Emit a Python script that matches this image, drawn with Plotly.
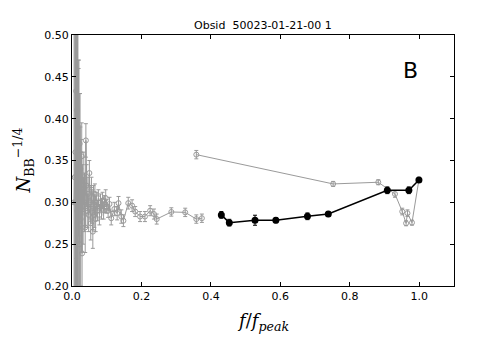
import plotly.graph_objects as go

# Gray series (low-frequency chain)
gray_x = [0.006, 0.008, 0.010, 0.011, 0.012, 0.013, 0.014, 0.015, 0.016, 0.017,
          0.018, 0.019, 0.020, 0.021, 0.022, 0.023, 0.024, 0.025, 0.026, 0.027,
          0.028, 0.029, 0.030, 0.032, 0.034, 0.036, 0.038, 0.040, 0.042, 0.044,
          0.046, 0.048, 0.050, 0.052, 0.054, 0.056, 0.058, 0.060, 0.062, 0.064,
          0.066, 0.068, 0.070, 0.073, 0.076, 0.079, 0.082, 0.085, 0.088, 0.091,
          0.094, 0.097, 0.100, 0.104, 0.108, 0.113, 0.122, 0.130, 0.134, 0.142,
          0.148, 0.162, 0.173, 0.182, 0.196, 0.210, 0.225, 0.236, 0.244, 0.286,
          0.326, 0.358, 0.374]
gray_y = [0.300, 0.330, 0.360, 0.300, 0.433, 0.330, 0.410, 0.290, 0.345, 0.391,
          0.270, 0.360, 0.320, 0.250, 0.370, 0.310, 0.340, 0.280, 0.325, 0.300,
          0.355, 0.239, 0.315, 0.290, 0.330, 0.300, 0.270, 0.374, 0.320, 0.290,
          0.310, 0.285, 0.335, 0.300, 0.275, 0.315, 0.295, 0.265, 0.305, 0.285,
          0.310, 0.280, 0.300, 0.290, 0.305, 0.285, 0.300, 0.292, 0.302, 0.290,
          0.298, 0.305, 0.295, 0.290, 0.298, 0.281, 0.292, 0.287, 0.299, 0.283,
          0.278, 0.299, 0.296, 0.289, 0.283, 0.283, 0.290, 0.286, 0.280, 0.2885,
          0.288, 0.280, 0.281]
gray_err = [0.30, 0.25, 0.35, 0.28, 0.20, 0.22, 0.15, 0.25, 0.18, 0.12,
            0.20, 0.10, 0.15, 0.10, 0.06, 0.12, 0.05, 0.08, 0.05, 0.06,
            0.04, 0.05, 0.03, 0.04, 0.03, 0.035, 0.03, 0.02, 0.025, 0.02,
            0.02, 0.02, 0.015, 0.02, 0.02, 0.015, 0.02, 0.02, 0.015, 0.015,
            0.012, 0.015, 0.012, 0.012, 0.010, 0.012, 0.010, 0.012, 0.010, 0.010,
            0.010, 0.010, 0.008, 0.008, 0.008, 0.008, 0.008, 0.008, 0.008, 0.008,
            0.007, 0.007, 0.007, 0.006, 0.006, 0.006, 0.006, 0.006, 0.006, 0.005,
            0.005, 0.005, 0.005]

# Gray series (high-frequency chain)
gray2_x = [0.358, 0.752, 0.882, 0.930, 0.951, 0.962, 0.966, 0.979, 0.999]
gray2_y = [0.357, 0.322, 0.324, 0.310, 0.289, 0.275, 0.287, 0.2757, 0.327]
gray2_err = [0.005, 0.003, 0.003, 0.004, 0.004, 0.003, 0.004, 0.003, 0.003]

# Black series
black_x = [0.430, 0.453, 0.527, 0.587, 0.678, 0.738, 0.908, 0.970, 0.999]
black_y = [0.285, 0.2757, 0.2786, 0.2786, 0.2833, 0.286, 0.3144, 0.3144, 0.3267]
black_err = [0.004, 0.004, 0.006, 0.003, 0.004, 0.003, 0.004, 0.004, 0.003]

x_ticks = [0.0, 0.2, 0.4, 0.6, 0.8, 1.0]
y_ticks = [0.20, 0.25, 0.30, 0.35, 0.40, 0.45, 0.50]

GRAY = "#9a9a9a"

fig = go.Figure()
for xs, ys, es in [(gray_x, gray_y, gray_err), (gray2_x, gray2_y, gray2_err)]:
    fig.add_trace(go.Scatter(
        x=xs, y=ys, mode="lines+markers",
        line=dict(color=GRAY, width=1),
        marker=dict(symbol="circle-open", size=5, color=GRAY, line=dict(width=1)),
        error_y=dict(type="data", array=es, color=GRAY, thickness=1, width=2),
        showlegend=False, cliponaxis=True))
fig.add_trace(go.Scatter(
    x=black_x, y=black_y, mode="lines+markers",
    line=dict(color="black", width=1.5),
    marker=dict(symbol="circle", size=7, color="black"),
    error_y=dict(type="data", array=black_err, color="black", thickness=1, width=2),
    showlegend=False))

axis_common = dict(showgrid=False, zeroline=False, showline=True, linecolor="black",
                   linewidth=1, mirror="ticks", ticks="inside", ticklen=4,
                   tickcolor="black", tickfont=dict(family="DejaVu Sans", size=11, color="black"))
fig.update_xaxes(range=[0, 1.1], tickvals=x_ticks,
                 ticktext=[f"{v:.1f}" for v in x_ticks], **axis_common)
fig.update_yaxes(range=[0.2, 0.5], tickvals=y_ticks,
                 ticktext=[f"{v:.2f}" for v in y_ticks], **axis_common)

fig.add_annotation(text="Obsid  50023-01-21-00 1", xref="paper", yref="paper",
                   x=0.5, y=1, yanchor="bottom", yshift=1, showarrow=False,
                   font=dict(family="DejaVu Sans", size=11, color="black"))
fig.add_annotation(text="B", xref="paper", yref="paper", x=0.885, y=0.86,
                   xanchor="center", yanchor="middle", showarrow=False,
                   font=dict(family="DejaVu Sans", size=22, color="black"))
fig.add_annotation(text="<i>f</i>/<i>f</i><sub><i>peak</i></sub>", xref="paper", yref="paper",
                   x=0.5, y=0, yanchor="top", yshift=-22, showarrow=False,
                   font=dict(family="DejaVu Serif", size=18, color="black"))
fig.add_annotation(text="<i>N</i><sub>BB</sub><sup>−1/4</sup>", xref="paper", yref="paper",
                   x=0, y=0.5, xanchor="right", xshift=-34, textangle=-90, showarrow=False,
                   font=dict(family="DejaVu Serif", size=18, color="black"))

fig.update_layout(width=470, height=350, margin=dict(l=64, r=24, t=27, b=72),
                  plot_bgcolor="white", paper_bgcolor="white")
fig.write_html("out.html")
